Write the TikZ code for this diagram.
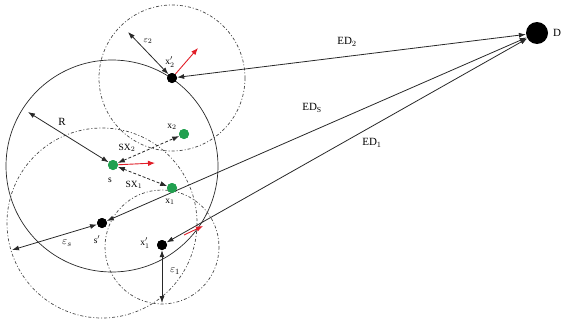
\documentclass[tikz,border=0pt]{standalone}
\usepackage{fontspec}
\setmainfont{Liberation Serif}
\usetikzlibrary{arrows.meta}
\definecolor{dotgreen}{RGB}{34,160,80}
\definecolor{arrred}{RGB}{225,30,40}
\definecolor{linegray}{RGB}{40,40,40}
\begin{document}
\begin{tikzpicture}[x=1pt,y=-1pt,
  every node/.style={inner sep=0pt},
  dotblack/.style={circle,fill=black,minimum size=10pt},
  dotgrn/.style={circle,fill=dotgreen,minimum size=10pt},
  bigdot/.style={circle,fill=black,minimum size=22pt},
  ring/.style={draw=linegray,line width=0.7pt},
  dashring/.style={draw=linegray!85,line width=0.7pt,dash pattern=on 3pt off 2pt on 1pt off 2pt},
  conn/.style={draw=linegray,line width=0.8pt,{Latex[length=7pt,width=5pt]}-{Latex[length=7pt,width=5pt]}},
  dconn/.style={conn,dash pattern=on 3pt off 2pt},
  redarr/.style={draw=arrred,line width=0.9pt,-{Latex[length=7pt,width=5.5pt]}},
  lbl/.style={font=\fontsize{11}{11}\selectfont},
  slbl/.style={font=\fontsize{9.5}{9.5}\selectfont}]
\useasboundingbox (0,0) rectangle (565,332);
% circles
\draw[ring] (112,166) circle[radius=106];
\draw[dashring] (172,78) circle[radius=73];
\draw[dashring] (102,223) circle[radius=95];
\draw[dashring] (162,247) circle[radius=57];
% points
\node[dotblack] (xp2) at (172,78) {};
\node[dotblack] (sp) at (102,223) {};
\node[dotblack] (xp1) at (162,245) {};
\node[dotgrn] (s) at (113,165) {};
\node[dotgrn] (x1) at (172,188) {};
\node[dotgrn] (x2) at (184,134) {};
\node[bigdot] (D) at (537,33) {};
% free ends
\coordinate (Rend) at (28,112);
\coordinate (e2end) at (128,32);
\coordinate (esend) at (12,250);
\coordinate (e1end) at (162,303);
\coordinate (rs) at (155,163);
\coordinate (rx2) at (198,48);
\coordinate (rx1a) at (184,235);
\coordinate (rx1b) at (203,226);
% connectors
\draw[conn] (xp2) -- (D);
\draw[conn] (sp) -- (D);
\draw[conn] (xp1) -- (D);
\draw[conn] (s) -- (Rend);
\draw[conn] (xp2) -- (e2end);
\draw[conn] (sp) -- (esend);
\draw[conn] (xp1) -- (e1end);
\draw[dconn] (s) -- (x2);
\draw[dconn] (s) -- (x1);
\draw[redarr] (s) -- (rs);
\draw[redarr] (xp2) -- (rx2);
\draw[redarr] (rx1a) -- (rx1b);
% redraw dots on top
\node[dotblack] at (172,78) {};
\node[dotblack] at (102,223) {};
\node[dotblack] at (162,245) {};
\node[dotgrn] at (113,165) {};
\node[dotgrn] at (172,188) {};
\node[dotgrn] at (184,134) {};
% labels
\node[lbl] at (557,33) {D};
\node[lbl] at (347,42) {ED$_2$};
\node[lbl] at (312,108) {ED$_\mathrm{S}$};
\node[lbl] at (372,143) {ED$_1$};
\node[lbl] at (62,122) {R};
\node[slbl] at (148,41) {$\varepsilon_2$};
\node[slbl] at (170,62) {x$'_2$};
\node[slbl] at (172,127) {x$_2$};
\node[slbl] at (127,148) {SX$_2$};
\node[slbl] at (110,180) {s};
\node[slbl] at (134,185) {SX$_1$};
\node[slbl] at (170,202) {x$_1$};
\node[lbl] at (67,243) {$\varepsilon_s$};
\node[slbl] at (97,240) {s$'$};
\node[slbl] at (145,243) {x$'_1$};
\node[lbl] at (175,271) {$\varepsilon_1$};
\end{tikzpicture}
\end{document}
